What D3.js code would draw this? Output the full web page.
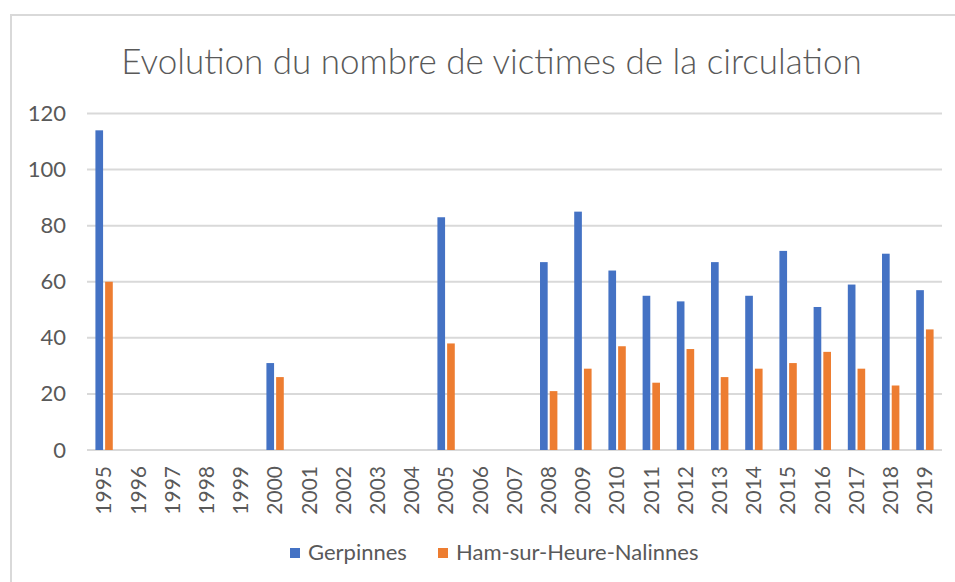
<!DOCTYPE html>
<html>
<head>
<meta charset="utf-8">
<script src="https://cdn.jsdelivr.net/npm/d3@7"></script>
<style>
  html, body { margin: 0; padding: 0; background: #fff; }
  svg { display: block; }
  text { font-family: Lato, "Open Sans", sans-serif; fill: #595959; }
</style>
</head>
<body>
<svg id="chart" width="955" height="582"></svg>
<script>
// Road casualties per year for the two municipalities
const years = ["1995","1996","1997","1998","1999","2000","2001","2002","2003","2004",
               "2005","2006","2007","2008","2009","2010","2011","2012","2013","2014",
               "2015","2016","2017","2018","2019"];
const gerpinnes = [114, null, null, null, null, 31, null, null, null, null,
                   83, null, null, 67, 85, 64, 55, 53, 67, 55,
                   71, 51, 59, 70, 57];
const hamSurHeure = [60, null, null, null, null, 26, null, null, null, null,
                     38, null, null, 21, 29, 37, 24, 36, 26, 29,
                     31, 35, 29, 23, 43];
const seriesNames = ["Gerpinnes", "Ham-sur-Heure-Nalinnes"];
const seriesColors = ["#4472C4", "#ED7D31"];
const yTicks = [0, 20, 40, 60, 80, 100, 120];
const title = "Evolution du nombre de victimes de la circulation";

const svg = d3.select("#chart");

// chart frame
svg.append("rect")
  .attr("x", 11).attr("y", 15)
  .attr("width", 960).attr("height", 600)
  .attr("fill", "#fff")
  .attr("stroke", "#d9d9d9").attr("stroke-width", 2);

const plot = { left: 87, right: 942, top: 113.5, bottom: 450 };

const x = d3.scaleBand().domain(years).range([plot.left, plot.right]);
const y = d3.scaleLinear().domain([0, 120]).range([plot.bottom, plot.top]);

// horizontal gridlines
svg.append("g").selectAll("line")
  .data(yTicks)
  .join("line")
  .attr("x1", plot.left).attr("x2", plot.right)
  .attr("y1", d => y(d)).attr("y2", d => y(d))
  .attr("stroke", "#d9d9d9").attr("stroke-width", 2);

// y axis labels
const yAxis = d3.axisLeft(y).tickValues(yTicks).tickSize(0).tickPadding(0);
const gy = svg.append("g").attr("transform", "translate(66,0)").call(yAxis);
gy.select(".domain").remove();
gy.selectAll("text")
  .attr("font-size", 22)
  .style("font-family", "Lato, sans-serif")
  .attr("fill", "#595959");

// grouped bars
const barW = x.bandwidth() * 0.224;
const inner = x.bandwidth() * 0.06;
const series = [gerpinnes, hamSurHeure];
series.forEach((vals, si) => {
  const offset = x.bandwidth() / 2 - (barW + inner / 2) + si * (barW + inner);
  svg.append("g").selectAll("rect")
    .data(years.map((yr, i) => ({ yr, v: vals[i] })).filter(d => d.v != null))
    .join("rect")
    .attr("x", d => x(d.yr) + offset)
    .attr("y", d => y(d.v))
    .attr("width", barW)
    .attr("height", d => y(0) - y(d.v))
    .attr("fill", seriesColors[si]);
});

// x axis labels, rotated
const xAxis = d3.axisBottom(x).tickSize(0).tickPadding(0);
const gx = svg.append("g").attr("transform", `translate(0,${plot.bottom})`).call(xAxis);
gx.select(".domain").remove();
gx.selectAll("text")
  .attr("font-size", 21)
  .style("font-family", "Lato, sans-serif")
  .attr("fill", "#595959")
  .attr("text-anchor", "end")
  .attr("transform", "rotate(-90)")
  .attr("x", -16)
  .attr("y", 0)
  .attr("dy", "0.35em");

// title
svg.append("text")
  .attr("x", 491.5).attr("y", 74)
  .attr("text-anchor", "middle")
  .attr("font-size", 35)
  .attr("font-weight", 300)
  .text(title);

// legend
const legendItems = [
  { name: seriesNames[0], color: seriesColors[0], x: 290 },
  { name: seriesNames[1], color: seriesColors[1], x: 438 }
];
const lg = svg.append("g").selectAll("g").data(legendItems).join("g")
  .attr("transform", d => `translate(${d.x},548)`);
lg.append("rect").attr("width", 10).attr("height", 10).attr("fill", d => d.color);
lg.append("text").attr("x", 18).attr("y", 12)
  .attr("font-size", 22)
  .text(d => d.name);
</script>
</body>
</html>
